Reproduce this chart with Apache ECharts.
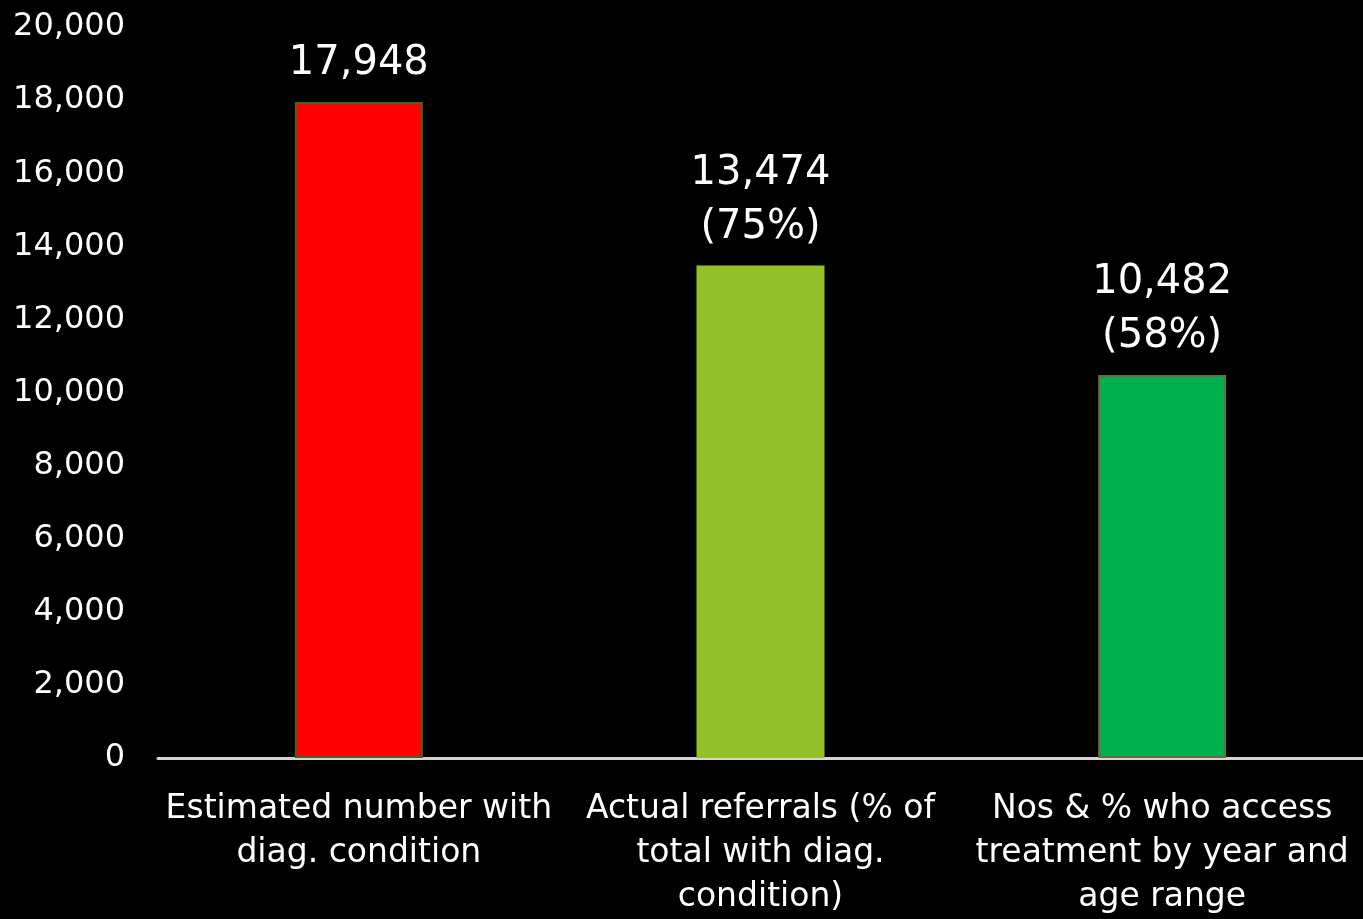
<!DOCTYPE html>
<html>
<head>
<meta charset="utf-8">
<script src="https://cdn.jsdelivr.net/npm/echarts@6/dist/echarts.min.js"></script>
<style>
  html, body { margin: 0; padding: 0; background: #000; }
  #chart { width: 1363px; height: 919px; }
</style>
</head>
<body>
<div id="chart"></div>
<script>
// chart data
var categories = [
  'Estimated number with\ndiag. condition',
  'Actual referrals (% of\ntotal with diag.\ncondition)',
  'Nos & % who access\ntreatment by year and\nage range'
];
var values = [17948, 13474, 10482];
var shares = ['', '75%', '58%'];
var barColors = ['#ff0000', '#92c12a', '#00b050'];
var borderColors = ['#3b6a1c', '#92c12a', '#6e6a40'];

var fontName = 'DejaVu Sans';

function fmt(v) {
  return v.toLocaleString('en-US');
}

var chart = echarts.init(document.getElementById('chart'));

var option = {
  backgroundColor: '#000000',
  animation: false,
  grid: {
    left: 158,
    right: 0,
    top: 27,
    bottom: 161,
    containLabel: false
  },
  xAxis: {
    type: 'category',
    data: categories,
    axisLine: { lineStyle: { color: '#d4d4d4', width: 3 } },
    axisTick: { show: false },
    axisLabel: {
      color: '#ffffff',
      fontFamily: fontName,
      fontSize: 33,
      lineHeight: 44,
      margin: 29,
      interval: 0
    }
  },
  yAxis: {
    type: 'value',
    min: 0,
    max: 20000,
    interval: 2000,
    axisLine: { show: false },
    axisTick: { show: false },
    splitLine: { show: false },
    axisLabel: {
      color: '#ffffff',
      fontFamily: fontName,
      fontSize: 32,
      margin: 33,
      formatter: function (v) { return fmt(v); }
    }
  },
  series: [{
    type: 'bar',
    barWidth: 128,
    data: values.map(function (v, i) {
      return {
        value: v,
        itemStyle: {
          color: barColors[i],
          borderColor: borderColors[i],
          borderWidth: 2
        }
      };
    }),
    label: {
      show: true,
      position: 'top',
      distance: 11,
      color: '#ffffff',
      fontFamily: fontName,
      fontSize: 40,
      lineHeight: 54,
      formatter: function (p) {
        var s = fmt(p.value);
        if (shares[p.dataIndex]) s += '\n(' + shares[p.dataIndex] + ')';
        return s;
      }
    }
  }]
};

chart.setOption(option);
</script>
</body>
</html>
